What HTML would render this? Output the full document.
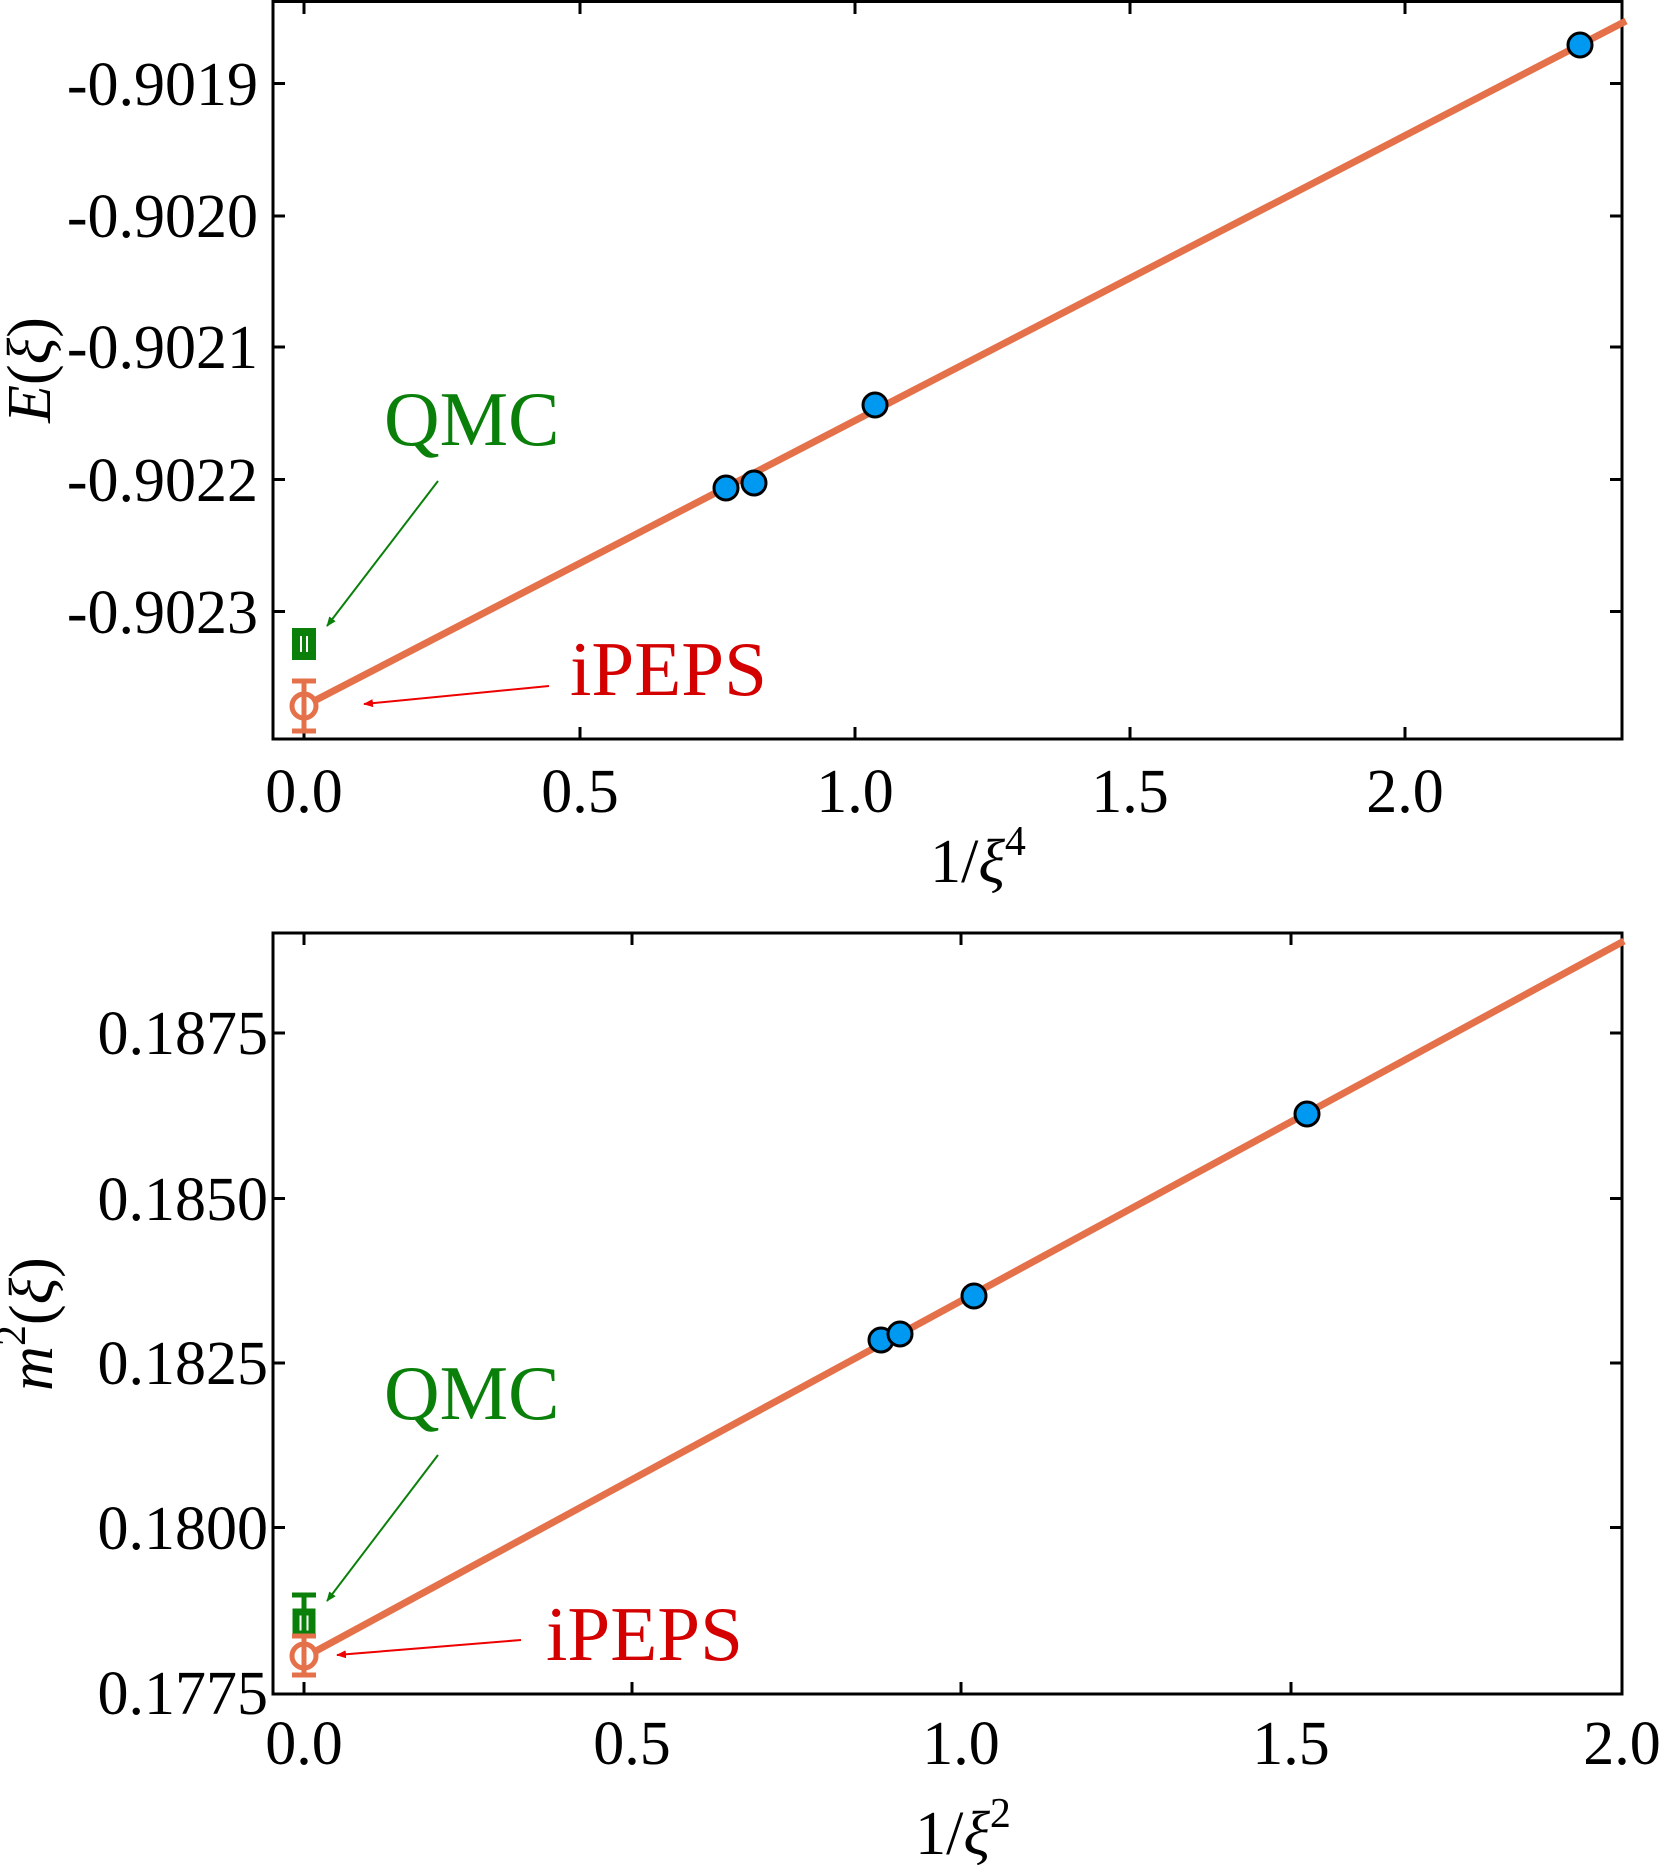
<!DOCTYPE html>
<html><head><meta charset="utf-8"><style>
html,body{margin:0;padding:0;background:#fff}
svg{display:block}
text{font-family:"Liberation Serif",serif;fill:#000}
</style></head><body>
<svg width="1660" height="1870" viewBox="0 0 1660 1870" xmlns="http://www.w3.org/2000/svg">
<defs>
<marker id="ag" markerWidth="10" markerHeight="8" refX="9" refY="4" orient="auto" markerUnits="userSpaceOnUse"><path d="M0,0 L18,4 L0,8 Z" fill="#0a800a" transform="scale(0.55,1)"/></marker>
<marker id="ar" markerWidth="10" markerHeight="8" refX="9" refY="4" orient="auto" markerUnits="userSpaceOnUse"><path d="M0,0 L18,4 L0,8 Z" fill="#ee0000" transform="scale(0.55,1)"/></marker>
</defs>
<!-- TOP PLOT -->
<g stroke="#000" stroke-width="3" fill="none">
<rect x="273" y="1.5" width="1349" height="737.5"/>
<path d="M304,739v-12M580,739v-12M855,739v-12M1130,739v-12M1405,739v-12M304,2v12M580,2v12M855,2v12M1130,2v12M1405,2v12"/>
<path d="M273,83.5h12M273,216h12M273,347h12M273,479.5h12M273,611.5h12M1622,83.5h-12M1622,216h-12M1622,347h-12M1622,479.5h-12M1622,611.5h-12"/>
</g>
<g font-size="62" text-anchor="end">
<text x="258" y="105">-0.9019</text>
<text x="258" y="237">-0.9020</text>
<text x="258" y="368">-0.9021</text>
<text x="258" y="501">-0.9022</text>
<text x="258" y="633">-0.9023</text>
</g>
<g font-size="62" text-anchor="middle">
<text x="304" y="812">0.0</text>
<text x="580" y="812">0.5</text>
<text x="855" y="812">1.0</text>
<text x="1130" y="812">1.5</text>
<text x="1405" y="812">2.0</text>
</g>
<text x="978" y="882" font-size="62" text-anchor="middle">1/<tspan font-style="italic">ξ</tspan><tspan font-size="42" dy="-27">4</tspan></text>
<text transform="translate(50,370) rotate(-90)" font-size="62" text-anchor="middle"><tspan font-style="italic">E</tspan>(<tspan font-style="italic">ξ</tspan>)</text>
<line x1="316" y1="700" x2="1626" y2="21" stroke="#e5714a" stroke-width="7"/>
<g fill="#0099f2" stroke="#000" stroke-width="3">
<circle cx="726" cy="488" r="12"/><circle cx="754" cy="483" r="12"/><circle cx="875" cy="405" r="12"/><circle cx="1580" cy="45" r="12"/>
</g>
<g stroke="#0a800a" fill="none">
<rect x="296" y="632" width="16" height="24" stroke-width="8"/>
<line x1="304" y1="634" x2="304" y2="654" stroke-width="4"/>
</g>
<g stroke="#e5714a" fill="none" stroke-width="5">
<circle cx="304" cy="706" r="12"/>
<path d="M304,681V731M292,681H316M292,731H316"/>
</g>
<text x="384" y="445" font-size="77" style="fill:#0a800a">QMC</text>
<line x1="438" y1="481" x2="327" y2="626" stroke="#0a800a" stroke-width="2" marker-end="url(#ag)"/>
<text x="570" y="695" font-size="77" style="fill:#d40000">iPEPS</text>
<line x1="549" y1="686" x2="364" y2="704" stroke="#ee0000" stroke-width="2" marker-end="url(#ar)"/>

<!-- BOTTOM PLOT -->
<g stroke="#000" stroke-width="3" fill="none">
<rect x="273" y="933" width="1349" height="761"/>
<path d="M304,1694v-12M632,1694v-12M961,1694v-12M1291,1694v-12M304,933v12M632,933v12M961,933v12M1291,933v12"/>
<path d="M273,1033h12M273,1198.5h12M273,1363h12M273,1527.5h12M1622,1033h-12M1622,1198.5h-12M1622,1363h-12M1622,1527.5h-12"/>
</g>
<g font-size="62" text-anchor="end">
<text x="268" y="1054">0.1875</text>
<text x="268" y="1220">0.1850</text>
<text x="268" y="1384">0.1825</text>
<text x="268" y="1549">0.1800</text>
<text x="268" y="1714">0.1775</text>
</g>
<g font-size="62" text-anchor="middle">
<text x="304" y="1764">0.0</text>
<text x="632" y="1764">0.5</text>
<text x="961" y="1764">1.0</text>
<text x="1291" y="1764">1.5</text>
<text x="1622" y="1764">2.0</text>
</g>
<text x="963" y="1854" font-size="62" text-anchor="middle">1/<tspan font-style="italic">ξ</tspan><tspan font-size="42" dy="-27">2</tspan></text>
<text transform="translate(52,1324) rotate(-90)" font-size="62" text-anchor="middle"><tspan font-style="italic">m</tspan><tspan font-size="42" dy="-27">2</tspan><tspan dy="27">(</tspan><tspan font-style="italic">ξ</tspan>)</text>
<g stroke="#0a800a" fill="none">
<path d="M304,1595V1645M292,1595H316" stroke-width="5"/>
<rect x="296" y="1612" width="16" height="22" stroke-width="7"/>
</g>
<line x1="316" y1="1651" x2="1624" y2="941" stroke="#e5714a" stroke-width="7"/>
<g fill="#0099f2" stroke="#000" stroke-width="3">
<circle cx="881" cy="1340" r="12"/><circle cx="900" cy="1334" r="12"/><circle cx="974" cy="1296" r="12"/><circle cx="1307" cy="1114" r="12"/>
</g>
<g stroke="#e5714a" fill="none" stroke-width="5">
<circle cx="304" cy="1656" r="12"/>
<path d="M304,1636V1675M292,1636H316M292,1675H316"/>
</g>
<text x="384" y="1419" font-size="77" style="fill:#0a800a">QMC</text>
<line x1="438" y1="1455" x2="327" y2="1601" stroke="#0a800a" stroke-width="2" marker-end="url(#ag)"/>
<text x="546" y="1660" font-size="77" style="fill:#d40000">iPEPS</text>
<line x1="521" y1="1640" x2="337" y2="1655" stroke="#ee0000" stroke-width="2" marker-end="url(#ar)"/>
</svg>
</body></html>
